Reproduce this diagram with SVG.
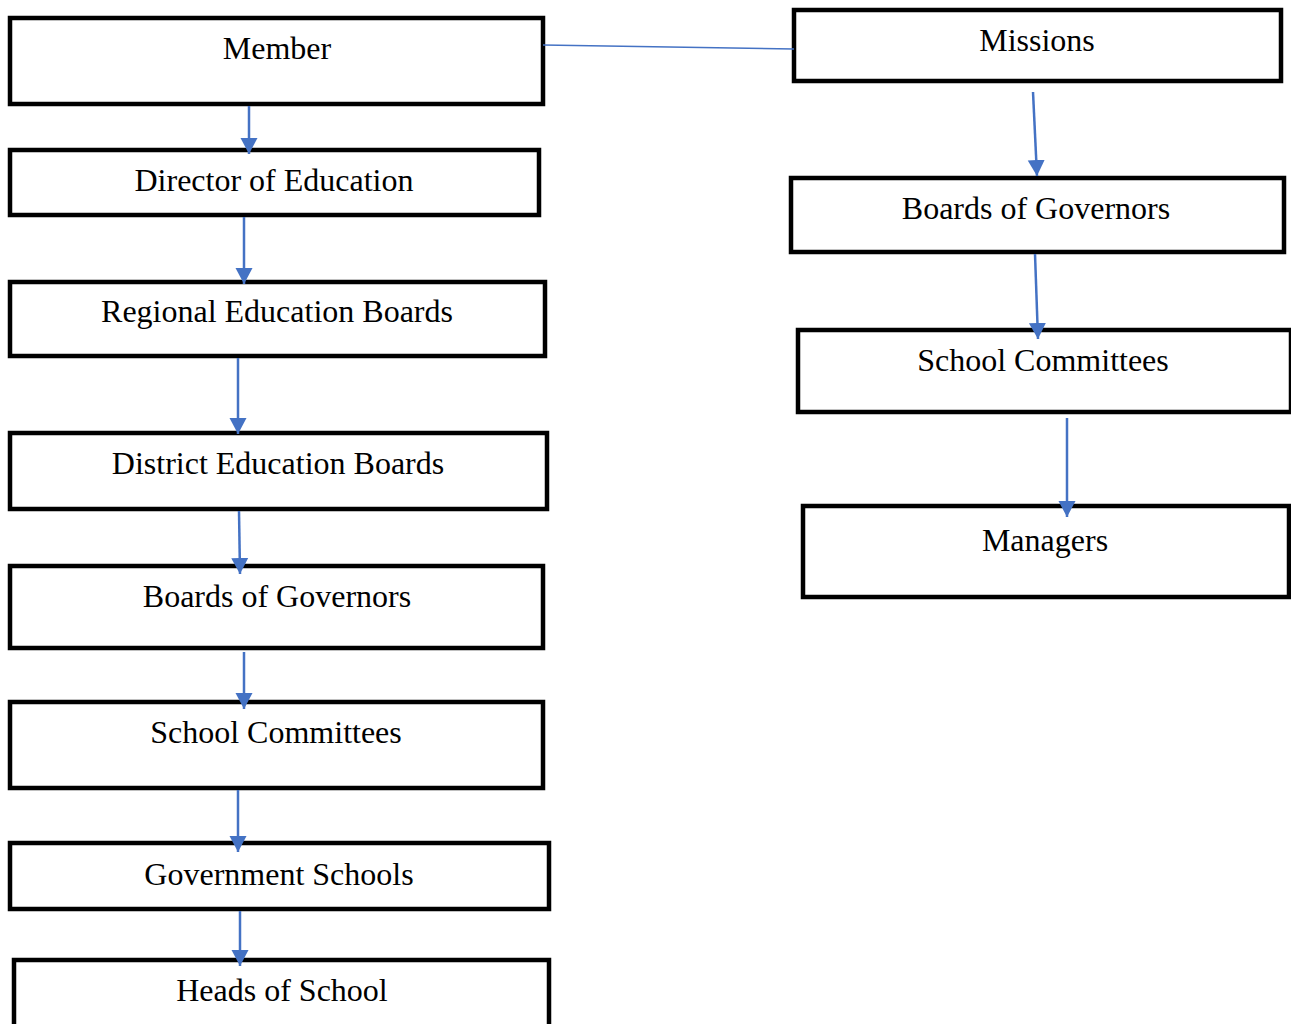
<svg xmlns="http://www.w3.org/2000/svg" width="1291" height="1024" viewBox="0 0 1291 1024">
<style>
.box{fill:#fff;stroke:#000;stroke-width:4.5}
.lbl{font-family:"Liberation Serif","Times New Roman",serif;font-size:32px;fill:#000;text-anchor:middle}
.arr{stroke:#4472C4;stroke-width:2.5;fill:none;marker-end:url(#ah)}
.ln{stroke:#4472C4;stroke-width:1.5;fill:none}
</style>
<defs>
<marker id="ah" markerUnits="userSpaceOnUse" markerWidth="18" markerHeight="18" refX="16" refY="9" orient="auto" viewBox="0 0 18 18">
<path d="M0,0.5 L16,9 L0,17.5 Z" fill="#4472C4"/>
</marker>
</defs>
<rect width="1291" height="1024" fill="#fff"/>
<g id="n-member"><rect class="box" x="10" y="18" width="533" height="86"/><text class="lbl" x="277" y="59">Member</text></g>
<g id="n-director"><rect class="box" x="10" y="150" width="529" height="65"/><text class="lbl" x="274" y="191">Director of Education</text></g>
<g id="n-regional"><rect class="box" x="10" y="282" width="535" height="74"/><text class="lbl" x="277" y="322">Regional Education Boards</text></g>
<g id="n-district"><rect class="box" x="10" y="433" width="537" height="76"/><text class="lbl" x="278" y="474">District Education Boards</text></g>
<g id="n-bog-left"><rect class="box" x="10" y="566" width="533" height="82"/><text class="lbl" x="277" y="607">Boards of Governors</text></g>
<g id="n-sc-left"><rect class="box" x="10" y="702" width="533" height="86"/><text class="lbl" x="276" y="743">School Committees</text></g>
<g id="n-gov"><rect class="box" x="10" y="843" width="539" height="66"/><text class="lbl" x="279" y="885">Government Schools</text></g>
<g id="n-heads"><rect class="box" x="14" y="960" width="535" height="70"/><text class="lbl" x="282" y="1001">Heads of School</text></g>
<g id="n-missions"><rect class="box" x="794" y="10" width="487" height="71"/><text class="lbl" x="1037" y="51">Missions</text></g>
<g id="n-bog-right"><rect class="box" x="791" y="178" width="493" height="74"/><text class="lbl" x="1036" y="219">Boards of Governors</text></g>
<g id="n-sc-right"><rect class="box" x="798" y="330" width="493" height="82"/><text class="lbl" x="1043" y="371">School Committees</text></g>
<g id="n-managers"><rect class="box" x="803" y="506" width="486" height="91"/><text class="lbl" x="1045" y="551">Managers</text></g>
<g id="connectors">
<line class="ln" x1="543" y1="45" x2="794" y2="49"/>
<line class="arr" x1="249" y1="106" x2="249" y2="154"/>
<line class="arr" x1="244" y1="217" x2="244" y2="284"/>
<line class="arr" x1="238" y1="358" x2="238" y2="434"/>
<line class="arr" x1="239" y1="511" x2="240" y2="574"/>
<line class="arr" x1="244" y1="652" x2="244" y2="709"/>
<line class="arr" x1="238" y1="790" x2="238" y2="852"/>
<line class="arr" x1="240" y1="911" x2="240" y2="966"/>
<line class="arr" x1="1033" y1="92" x2="1037" y2="176"/>
<line class="arr" x1="1035" y1="254" x2="1038" y2="339"/>
<line class="arr" x1="1067" y1="418" x2="1067" y2="517"/>
</g>
</svg>
